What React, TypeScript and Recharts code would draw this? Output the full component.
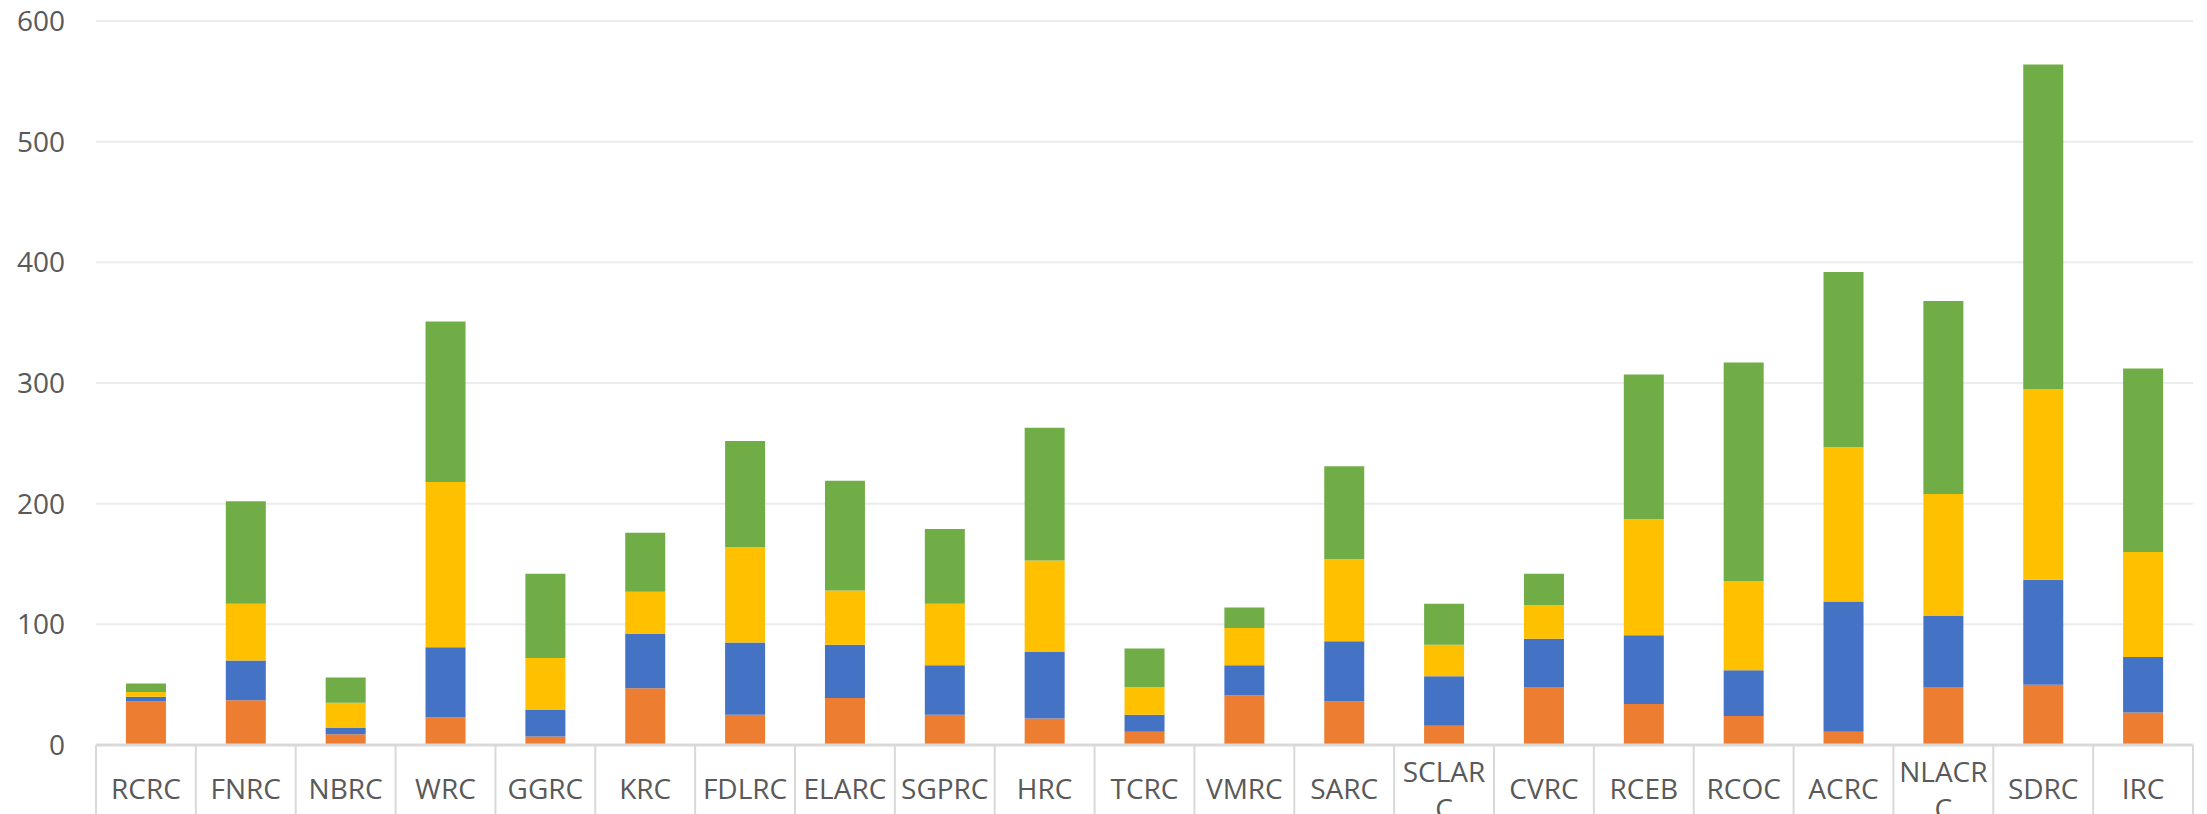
import { Bar, BarChart, CartesianGrid, XAxis, YAxis } from "recharts";

const categories = [
  "RCRC", "FNRC", "NBRC", "WRC", "GGRC", "KRC", "FDLRC", "ELARC", "SGPRC", "HRC", "TCRC",
  "VMRC", "SARC", "SCLARC", "CVRC", "RCEB", "RCOC", "ACRC", "NLACRC", "SDRC", "IRC",
];
const orangeValues = [36, 37, 9, 23, 7, 47, 25, 39, 25, 22, 11, 41, 36, 16, 48, 34, 24, 11, 48, 50, 27];
const blueValues = [4, 33, 5, 58, 22, 45, 60, 44, 41, 55, 14, 25, 50, 41, 40, 57, 38, 108, 59, 87, 46];
const yellowValues = [4, 47, 21, 137, 43, 35, 79, 45, 51, 76, 23, 31, 68, 26, 28, 96, 74, 128, 101, 158, 87];
const greenValues = [7, 85, 21, 133, 70, 49, 88, 91, 62, 110, 32, 17, 77, 34, 26, 120, 181, 145, 160, 269, 152];
const yTicks = [0, 100, 200, 300, 400, 500, 600];

const data = categories.map((name, i) => ({
  name,
  orange: orangeValues[i],
  blue: blueValues[i],
  yellow: yellowValues[i],
  green: greenValues[i],
}));

const W = 2207;
const H = 814;
const AXIS_W = 96;
const RIGHT = 14;
const BAND = (W - AXIS_W - RIGHT) / categories.length;
const FONT = "'Open Sans', sans-serif";

function CategoryTick(props: any) {
  const { x, y, payload, index } = props;
  const label: string = payload.value;
  const lines = label.length > 5 ? [label.slice(0, 5), label.slice(5)] : [label];
  const left = x - BAND / 2;
  const right = x + BAND / 2;
  return (
    <g>
      <line x1={left} y1={y} x2={left} y2={H} stroke="#d9d9d9" strokeWidth={2} />
      {index === categories.length - 1 && (
        <line x1={right} y1={y} x2={right} y2={H} stroke="#d9d9d9" strokeWidth={2} />
      )}
      {lines.map((t, i) => (
        <text
          key={i}
          x={x}
          y={y + (lines.length > 1 ? 37 + i * 37 : 54)}
          textAnchor="middle"
          fill="#595959"
          fontSize={28}
          fontFamily={FONT}
        >
          {t}
        </text>
      ))}
    </g>
  );
}

export default function App() {
  return (
    <div style={{ position: "absolute", left: 0, top: 0, width: W, height: H, background: "#fff" }}>
      <BarChart
        width={W}
        height={H}
        data={data}
        margin={{ top: 21, right: RIGHT, bottom: 0, left: 0 }}
        barCategoryGap="30%"
      >
        <CartesianGrid vertical={false} stroke="#ececec" strokeWidth={2} />
        <XAxis
          dataKey="name"
          interval={0}
          height={69}
          tickLine={false}
          tickSize={0}
          tickMargin={0}
          axisLine={{ stroke: "#d9d9d9", strokeWidth: 3 }}
          tick={<CategoryTick />}
        />
        <YAxis
          width={AXIS_W}
          domain={[0, 600]}
          ticks={yTicks}
          axisLine={false}
          tickLine={false}
          tickSize={0}
          tickMargin={31}
          tick={{ fill: "#595959", fontSize: 28, fontFamily: FONT }}
        />
        <Bar dataKey="orange" stackId="a" fill="#ED7D31" isAnimationActive={false} />
        <Bar dataKey="blue" stackId="a" fill="#4472C4" isAnimationActive={false} />
        <Bar dataKey="yellow" stackId="a" fill="#FFC000" isAnimationActive={false} />
        <Bar dataKey="green" stackId="a" fill="#70AD47" isAnimationActive={false} />
      </BarChart>
    </div>
  );
}
